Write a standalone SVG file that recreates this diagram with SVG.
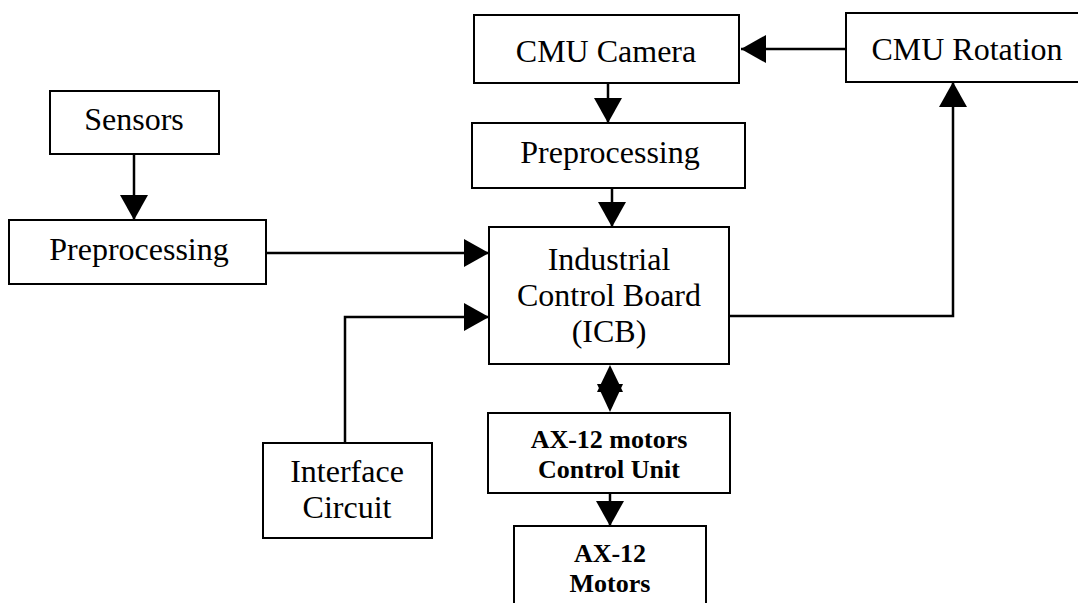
<svg xmlns="http://www.w3.org/2000/svg" width="1078" height="603" viewBox="0 0 1078 603">
<defs>
<style>
.box{fill:#fff;stroke:#000;stroke-width:2}
.t{font-family:"Liberation Serif","Times New Roman",serif;font-size:32px;fill:#000;text-anchor:middle}
.b{font-family:"Liberation Serif","Times New Roman",serif;font-size:26px;font-weight:bold;fill:#000;text-anchor:middle}
.c{fill:none;stroke:#000;stroke-width:2.5}
.h{fill:#000;stroke:none}
</style>
<marker id="ah" markerUnits="userSpaceOnUse" markerWidth="26" markerHeight="28" refX="25" refY="14" orient="auto" viewBox="0 0 26 28">
<path d="M0,0 L25,14 L0,28 z" fill="#000"/>
</marker>
</defs>
<rect width="1078" height="603" fill="#fff"/>
<g id="cmu-camera"><rect class="box" x="474" y="15" width="265" height="68"/><text class="t" x="606" y="62">CMU Camera</text></g>
<g id="cmu-rotation"><rect class="box" x="846" y="13" width="240" height="69"/><text class="t" x="967" y="60">CMU Rotation</text></g>
<g id="preproc-cam"><rect class="box" x="472" y="123" width="273" height="65"/><text class="t" x="610" y="163">Preprocessing</text></g>
<g id="sensors"><rect class="box" x="50" y="91" width="169" height="63"/><text class="t" x="134" y="130">Sensors</text></g>
<g id="preproc-sens"><rect class="box" x="9" y="220" width="257" height="64"/><text class="t" x="139" y="260">Preprocessing</text></g>
<g id="icb"><rect class="box" x="489" y="227" width="240" height="137"/><text class="t" x="609" y="270">Industrial</text><text class="t" x="609" y="306">Control Board</text><text class="t" x="609" y="342">(ICB)</text></g>
<g id="interface"><rect class="box" x="263" y="443" width="169" height="95"/><text class="t" x="347" y="482">Interface</text><text class="t" x="347" y="518">Circuit</text></g>
<g id="ax-control"><rect class="box" x="488" y="413" width="242" height="80"/><text class="b" x="609" y="448">AX-12 motors</text><text class="b" x="609" y="478">Control Unit</text></g>
<g id="ax-motors"><rect class="box" x="514" y="526" width="192" height="90"/><text class="b" x="610" y="562">AX-12</text><text class="b" x="610" y="592">Motors</text></g>
<g id="connectors">
<path class="c" d="M846,49 L741,49" marker-end="url(#ah)"/>
<path class="c" d="M608,83 L608,123" marker-end="url(#ah)"/>
<path class="c" d="M612,188 L612,227" marker-end="url(#ah)"/>
<path class="c" d="M134,154 L134,220" marker-end="url(#ah)"/>
<path class="c" d="M266,253 L489,253" marker-end="url(#ah)"/>
<path class="c" d="M345,443 L345,317 L489,317" marker-end="url(#ah)"/>
<path class="c" d="M729,316 L953,316 L953,82" marker-end="url(#ah)"/>
<polygon class="h" points="610,365 623,392 597,392"/>
<polygon class="h" points="597,384 623,384 610,412"/>
<path class="c" d="M610,493 L610,526" marker-end="url(#ah)"/>
</g>
</svg>
